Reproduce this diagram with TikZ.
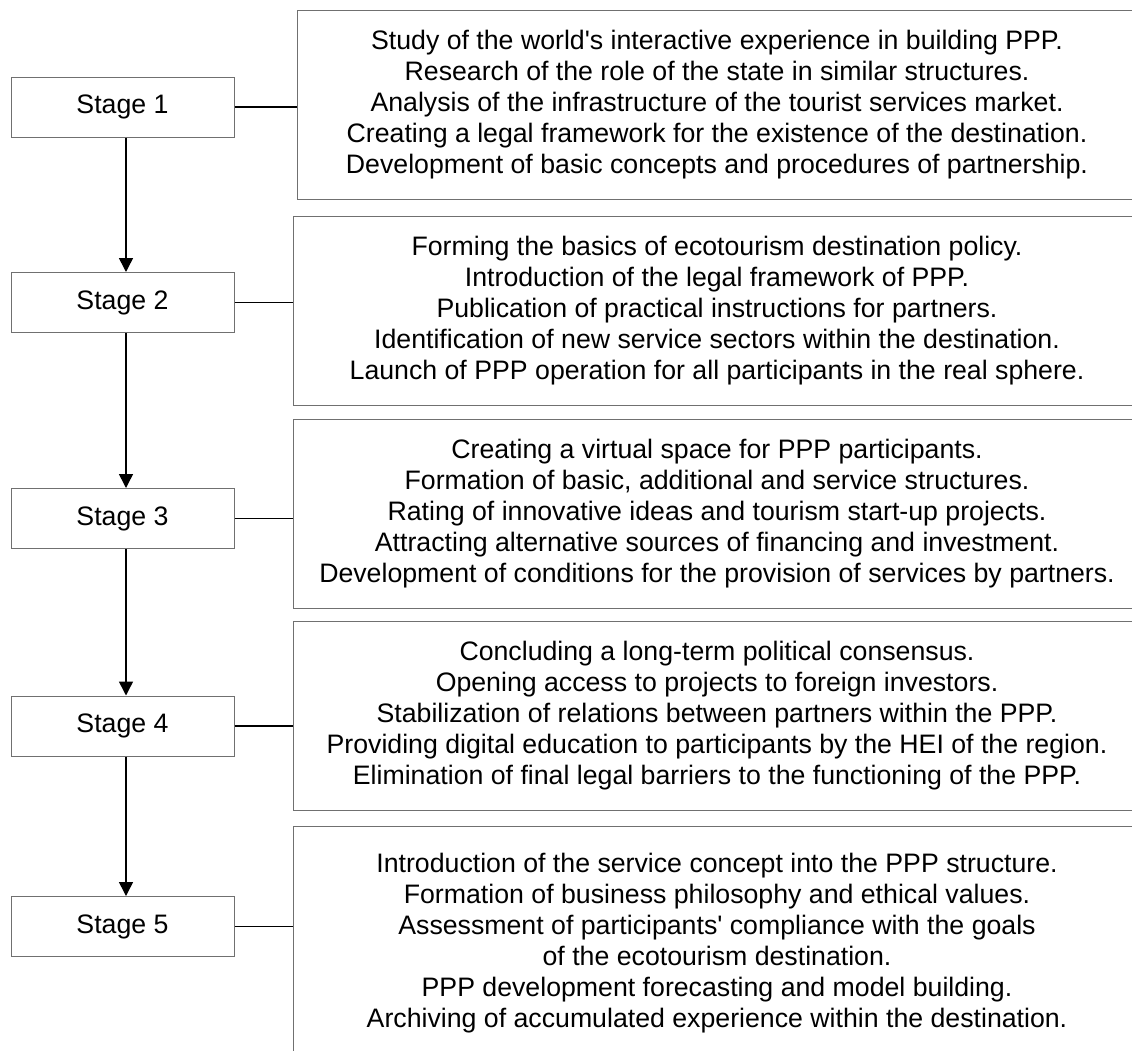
\documentclass[tikz,border=0pt]{standalone}
\usepackage{fontspec}
\setmainfont{Liberation Sans}
\usetikzlibrary{arrows.meta}
\definecolor{boxgray}{RGB}{112,112,112}
\tikzset{
  stagebox/.style={draw=boxgray, line width=1pt, minimum width=223pt, minimum height=60pt, inner sep=0pt, font=\fontsize{26.7}{31}\selectfont},
  infobox/.style={draw=boxgray, line width=1pt, minimum height=189pt, inner sep=0pt, align=center, font=\fontsize{26.7}{31}\selectfont},
  link/.style={line width=1.6pt, black},
  arr/.style={line width=1.5pt, black, -{Triangle[width=14pt,length=14pt]}}
}
\begin{document}
\begin{tikzpicture}[x=1pt,y=-1pt]
\useasboundingbox (0,0) rectangle (1132,1050);
\clip (0,0) rectangle (1132,1050);
\fill[white] (0,0) rectangle (1132,1050);

\node[stagebox] (s1) at (122.5,107) {Stage 1};
\node[stagebox] (s2) at (122.5,302.5) {Stage 2};
\node[stagebox] (s3) at (122.5,518.5) {Stage 3};
\node[stagebox] (s4) at (122.5,726) {Stage 4};
\node[stagebox] (s5) at (122.5,926.5) {Stage 5};

\node[infobox, minimum width=840pt] (b1) at (717,104.5) {Study of the world\textquotesingle s interactive experience in building PPP.\\Research of the role of the state in similar structures.\\Analysis of the infrastructure of the tourist services market.\\Creating a legal framework for the existence of the destination.\\Development of basic concepts and procedures of partnership.};
\node[infobox, minimum width=848pt] (b2) at (717,310.5) {Forming the basics of ecotourism destination policy.\\Introduction of the legal framework of PPP.\\Publication of practical instructions for partners.\\Identification of new service sectors within the destination.\\Launch of PPP operation for all participants in the real sphere.};
\node[infobox, minimum width=848pt] (b3) at (717,513.5) {Creating a virtual space for PPP participants.\\Formation of basic, additional and service structures.\\Rating of innovative ideas and tourism start-up projects.\\Attracting alternative sources of financing and investment.\\Development of conditions for the provision of services by partners.};
\node[infobox, minimum width=848pt] (b4) at (717,716) {Concluding a long-term political consensus.\\Opening access to projects to foreign investors.\\Stabilization of relations between partners within the PPP.\\Providing digital education to participants by the HEI of the region.\\Elimination of final legal barriers to the functioning of the PPP.};
\node[infobox, minimum width=848pt, minimum height=234pt] (b5) at (717,943) {Introduction of the service concept into the PPP structure.\\Formation of business philosophy and ethical values.\\Assessment of participants\textquotesingle\ compliance with the goals\\of the ecotourism destination.\\PPP development forecasting and model building.\\Archiving of accumulated experience within the destination.};

\foreach \i in {1,...,5}{
  \draw[link] (s\i.east) -- (s\i.east -| b\i.west);
}
\draw[arr] ([xshift=3.5pt]s1.south) -- ([xshift=3.5pt]s2.north);
\draw[arr] ([xshift=3.5pt]s2.south) -- ([xshift=3.5pt]s3.north);
\draw[arr] ([xshift=3.5pt]s3.south) -- ([xshift=3.5pt]s4.north);
\draw[arr] ([xshift=3.5pt]s4.south) -- ([xshift=3.5pt]s5.north);
\end{tikzpicture}
\end{document}
